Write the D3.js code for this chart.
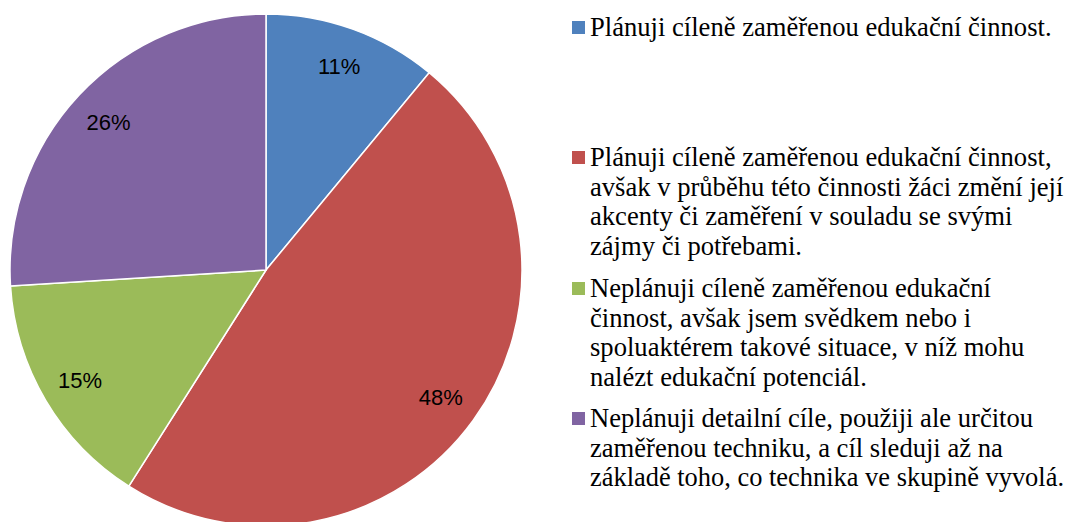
<!DOCTYPE html>
<meta charset="utf-8">
<script src="https://d3js.org/d3.v7.min.js"></script>
<style>
  body { margin: 0; background: #fff; }
</style>
<div id="my_dataviz"></div>
<script>

    // data
    var categories = [
      "Plánuji cíleně zaměřenou edukační činnost.",
      "Plánuji cíleně zaměřenou edukační činnost, avšak v průběhu této činnosti žáci změní její akcenty či zaměření v souladu se svými zájmy či potřebami.",
      "Neplánuji cíleně zaměřenou edukační činnost, avšak jsem svědkem nebo i spoluaktérem takové situace, v níž mohu nalézt edukační potenciál.",
      "Neplánuji detailní cíle, použiji ale určitou zaměřenou techniku, a cíl sleduji až na základě toho, co technika ve skupině vyvolá."
    ]
    var values = [11, 48, 15, 26]
    // legend lines as wrapped in the original
    var legendLines = [
      ["Plánuji cíleně zaměřenou edukační činnost."],
      ["Plánuji cíleně zaměřenou edukační činnost,", "avšak v průběhu této činnosti žáci změní její", "akcenty či zaměření v souladu se svými", "zájmy či potřebami."],
      ["Neplánuji cíleně zaměřenou edukační", "činnost, avšak jsem svědkem nebo i", "spoluaktérem takové situace, v níž mohu", "nalézt edukační potenciál."],
      ["Neplánuji detailní cíle, použiji ale určitou", "zaměřenou techniku, a cíl sleduji až na", "základě toho, co technika ve skupině vyvolá."]
    ]
    var colors = ["#4F81BD", "#C0504D", "#9BBB59", "#8064A2"]

    var width = 1070, height = 522
    var cx = 266, cy = 270, radius = 256

    var svg = d3.select("#my_dataviz")
      .append("svg")
        .attr("width", width)
        .attr("height", height)

    var color = d3.scaleOrdinal().domain(categories).range(colors)

    var data = categories.map(function(c, i) { return {name: c, value: values[i]} })

    var pie = d3.pie()
      .sort(null)
      .value(function(d) { return d.value })

    var arc = d3.arc().innerRadius(0).outerRadius(radius)
    var labelArc = d3.arc().innerRadius(216).outerRadius(216)

    var g = svg.append("g")
      .attr("transform", "translate(" + cx + "," + cy + ")")

    var arcs = pie(data)

    g.selectAll("path")
      .data(arcs)
      .enter()
      .append("path")
        .attr("d", arc)
        .style("fill", function(d) { return color(d.data.name) })
        .style("stroke", "#fff")
        .style("stroke-width", 1.5)

    g.selectAll("text.lbl")
      .data(arcs)
      .enter()
      .append("text")
        .attr("class", "lbl")
        .attr("transform", function(d) { return "translate(" + labelArc.centroid(d) + ")" })
        .attr("text-anchor", "middle")
        .attr("dy", "0.35em")
        .style("font-family", "'Liberation Sans', Arial, sans-serif")
        .style("font-size", "22px")
        .style("fill", "#000")
        .text(function(d) { return d.data.value + "%" })

    // legend
    var legendTop = [36, 166, 297, 427]
    var lineH = 29.7
    var maxW = 474   // text must end before the right edge
    var legend = svg.selectAll("g.leg")
      .data(data)
      .enter()
      .append("g")
        .attr("class", "leg")
        .attr("transform", function(d, i) { return "translate(572," + legendTop[i] + ")" })

    legend.append("rect")
      .attr("x", 0)
      .attr("y", -15)
      .attr("width", 13)
      .attr("height", 13)
      .style("fill", function(d) { return color(d.name) })

    legend.each(function(d, i) {
      var grp = d3.select(this)
      legendLines[i].forEach(function(line, j) {
        var t = grp.append("text")
          .attr("x", 18)
          .attr("y", j * lineH)
          .style("font-family", "'Liberation Serif', 'Times New Roman', serif")
          .style("font-size", "26.6px")
          .style("fill", "#000")
          .text(line)
        if (t.node().getComputedTextLength() > maxW) {
          t.attr("textLength", maxW).attr("lengthAdjust", "spacingAndGlyphs")
        }
      })
    })

</script>
